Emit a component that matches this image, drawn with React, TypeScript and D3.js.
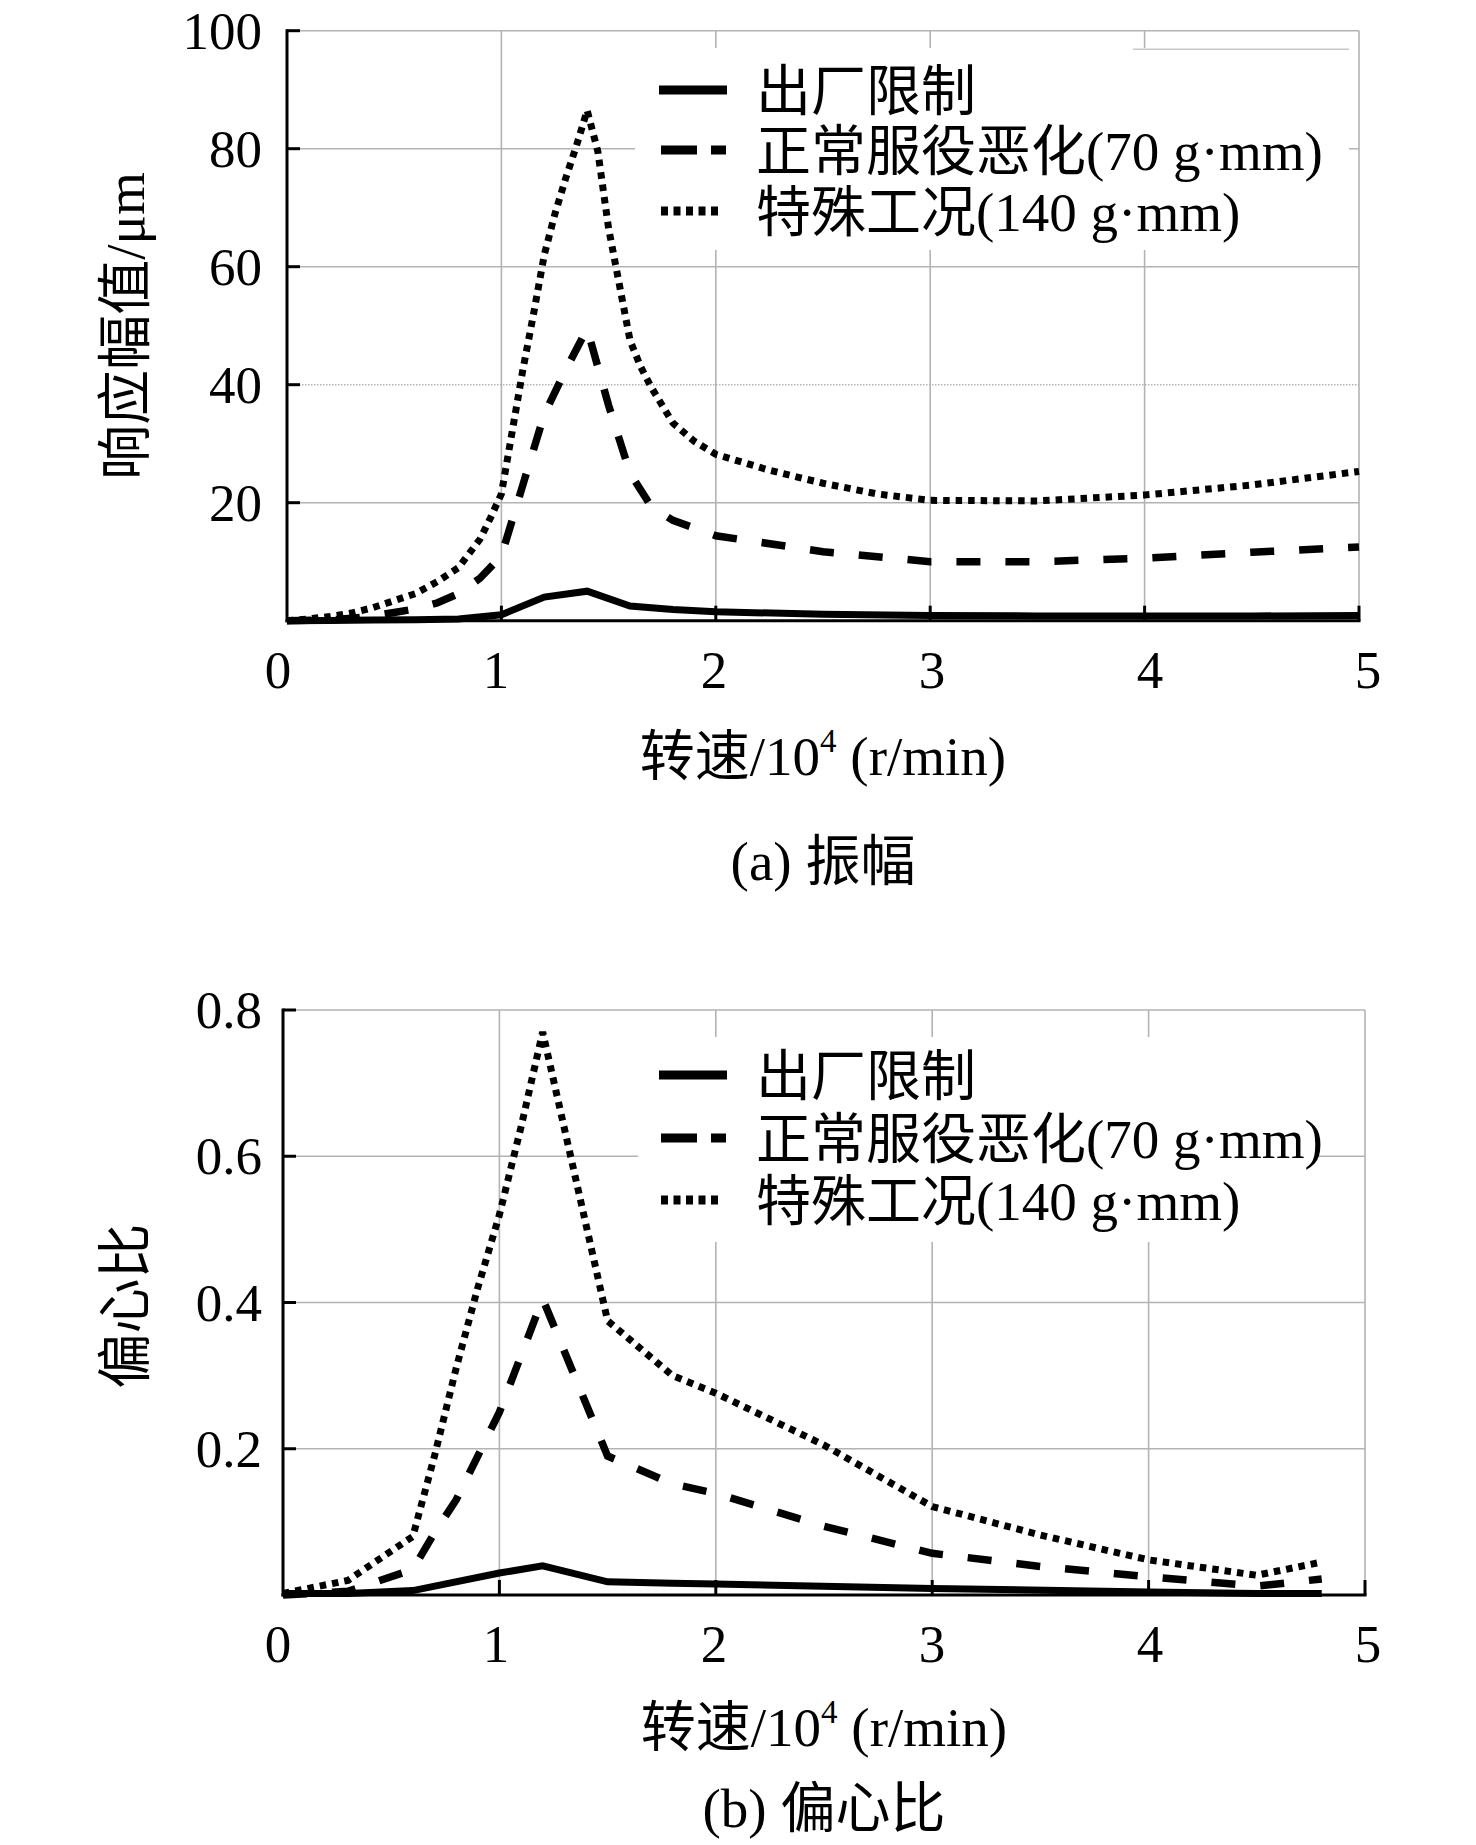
import React from 'react';
import * as d3 from 'd3';

const W = 1476;
const H = 1845;
const FONT = "'Liberation Serif', 'Times New Roman', 'Noto Sans CJK SC', serif";

// ---------- shared ----------
const X_TICKS = [0, 1, 2, 3, 4, 5];
const LEGEND_LABELS = ['出厂限制', '正常服役恶化(70 g·mm)', '特殊工况(140 g·mm)'];

// ---------- (a) amplitude, μm ----------
const A_Y_TICKS = [20, 40, 60, 80, 100];
const A_SPEED_LIMIT = [0, 0.2, 0.4, 0.6, 0.8, 1.0, 1.2, 1.4, 1.6, 1.8, 2.0, 2.5, 3.0, 3.5, 4.0, 4.5, 5.0];
const A_AMP_LIMIT = [0, 0.05, 0.1, 0.15, 0.3, 1.0, 4.0, 5.0, 2.5, 1.9, 1.5, 1.1, 0.9, 0.8, 0.8, 0.8, 0.9];
const A_SPEED_NORMAL = [0, 0.2, 0.3, 0.4, 0.5, 0.6, 0.7, 0.8, 0.9, 1.0, 1.1, 1.2, 1.3, 1.4, 1.5, 1.6, 1.7, 1.8, 2.0, 2.5, 3.0, 3.5, 4.0, 4.5, 5.0];
const A_AMP_NORMAL = [0, 0.1, 0.4, 0.8, 1.4, 2.0, 3.0, 4.6, 7.2, 11, 23, 35, 42.5, 49.5, 36.5, 25, 19.3, 17, 14.4, 11.7, 10, 10, 10.6, 11.6, 12.5];
const A_SPEED_SPECIAL = [0, 0.1, 0.2, 0.3, 0.4, 0.5, 0.6, 0.7, 0.8, 0.9, 0.95, 1.0, 1.05, 1.1, 1.15, 1.2, 1.25, 1.3, 1.35, 1.4, 1.45, 1.5, 1.55, 1.6, 1.65, 1.7, 1.8, 1.9, 2.0, 2.25, 2.5, 2.75, 3.0, 3.5, 4.0, 4.5, 5.0];
const A_AMP_SPECIAL = [0, 0.3, 0.7, 1.3, 2.2, 3.4, 4.6, 6.6, 9.0, 13.8, 17.5, 21.5, 32, 42.5, 52, 62, 69, 75, 80.5, 86.5, 79.5, 66.5, 57, 47.5, 43, 39.5, 33.5, 30.4, 28.2, 25.5, 23.3, 21.5, 20.4, 20.3, 21.3, 23, 25.3];

// ---------- (b) eccentricity ratio ----------
const B_Y_TICKS = [0.2, 0.4, 0.6, 0.8];
const B_SPEED_LIMIT = [0, 0.3, 0.6, 1.0, 1.2, 1.5, 1.8, 2.0, 3.0, 4.0, 4.5, 4.8];
const B_ECC_LIMIT = [0.002, 0.002, 0.006, 0.03, 0.04, 0.018, 0.016, 0.015, 0.009, 0.004, 0.002, 0.002];
const B_SPEED_NORMAL = [0, 0.3, 0.6, 0.7, 0.8, 0.9, 1.0, 1.2, 1.5, 1.8, 2.0, 2.5, 3.0, 3.5, 4.0, 4.5, 4.8];
const B_ECC_NORMAL = [0, 0.005, 0.035, 0.085, 0.13, 0.19, 0.25, 0.405, 0.19, 0.152, 0.139, 0.094, 0.057, 0.039, 0.025, 0.012, 0.022];
const B_SPEED_SPECIAL = [0, 0.3, 0.6, 0.7, 0.8, 0.9, 1.0, 1.1, 1.2, 1.5, 1.8, 2.0, 2.5, 3.0, 3.5, 4.0, 4.5, 4.8];
const B_ECC_SPECIAL = [0.002, 0.02, 0.08, 0.19, 0.31, 0.42, 0.52, 0.64, 0.77, 0.375, 0.30, 0.276, 0.205, 0.121, 0.082, 0.048, 0.027, 0.045];

type Series = { xs: number[]; ys: number[] };
type LineStyle = { width: number; dash?: string };

const DATA_STYLES: LineStyle[] = [
  { width: 7 },
  { width: 7.5, dash: '24 25' },
  { width: 7, dash: '6.5 6' },
];
const LEGEND_STYLES: { width: number; dash?: string; x0: number; x1: number }[] = [
  { width: 9, x0: 659, x1: 727 },
  { width: 9, dash: '36 14', x0: 661, x1: 726 },
  { width: 9, dash: '7 5.5', x0: 661, x1: 718 },
];

interface PanelProps {
  xPx: [number, number];
  yPx: [number, number];
  yMax: number;
  yTicks: number[];
  fmt: (v: number) => string;
  series: Series[];
  box: { x: number; y: number; w: number; h: number };
  rows: number[];
  yTitle: string;
  yTitleY: number;
  xTitleY: number;
  caption: string;
  captionY: number;
  dottedGrid?: number;
  remnant?: { x0: number; x1: number; y: number };
}

function Panel(p: PanelProps) {
  const x = d3.scaleLinear().domain([0, 5]).range(p.xPx);
  // tick labels in the original sit on a slightly wider spacing than the gridlines
  const xLab = d3.scaleLinear().domain([0, 5]).range([278, 1368]);
  const y = d3.scaleLinear().domain([0, p.yMax]).range(p.yPx);
  const line = d3
    .line<[number, number]>()
    .x((d) => x(d[0]))
    .y((d) => y(d[1]));
  const left = p.xPx[0];
  const right = p.xPx[1];
  const bottom = p.yPx[0];
  const top = p.yPx[1];
  const cx = (left + right) / 2;
  const grid = '#b3b3b3';
  return (
    <g>
      {/* gridlines */}
      {p.yTicks.map((t) => (
        <line
          key={'gy' + t}
          x1={left}
          x2={right}
          y1={y(t)}
          y2={y(t)}
          stroke={grid}
          strokeWidth={1.6}
          strokeDasharray={p.dottedGrid === t ? '1.5 1.5' : undefined}
        />
      ))}
      {X_TICKS.filter((t) => t > 0).map((t) => (
        <line key={'gx' + t} x1={x(t)} x2={x(t)} y1={bottom} y2={top} stroke={grid} strokeWidth={1.6} />
      ))}
      {/* legend background */}
      <rect x={p.box.x} y={p.box.y} width={p.box.w} height={p.box.h} fill="#fff" />
      {p.remnant && (
        <line x1={p.remnant.x0} x2={p.remnant.x1} y1={p.remnant.y} y2={p.remnant.y} stroke="#c8c8c8" strokeWidth={1.5} />
      )}
      {/* data */}
      {p.series.map((s, i) => (
        <path
          key={'s' + i}
          d={line(s.xs.map((v, j) => [v, s.ys[j]] as [number, number])) || ''}
          fill="none"
          stroke="#000"
          strokeWidth={DATA_STYLES[i].width}
          strokeDasharray={DATA_STYLES[i].dash}
        />
      ))}
      {/* axes */}
      <line x1={left} x2={left} y1={top - 1.5} y2={bottom + 1.5} stroke="#000" strokeWidth={3} />
      <line x1={left - 1.5} x2={right + 1.5} y1={bottom} y2={bottom} stroke="#000" strokeWidth={3} />
      {p.yTicks.map((t) => (
        <line key={'ty' + t} x1={left} x2={left + 13} y1={y(t)} y2={y(t)} stroke="#000" strokeWidth={3} />
      ))}
      {X_TICKS.filter((t) => t > 0).map((t) => (
        <line key={'tx' + t} x1={x(t)} x2={x(t)} y1={bottom} y2={bottom - 15} stroke="#000" strokeWidth={3} />
      ))}
      {/* tick labels */}
      {p.yTicks.map((t) => (
        <text key={'ly' + t} x={262} y={y(t)} dy="0.34em" textAnchor="end" fontSize={53} fontFamily={FONT}>
          {p.fmt(t)}
        </text>
      ))}
      {X_TICKS.map((t) => (
        <text key={'lx' + t} x={xLab(t)} y={bottom + 67} textAnchor="middle" fontSize={53} fontFamily={FONT}>
          {String(t)}
        </text>
      ))}
      {/* titles */}
      <text
        transform={`translate(124,${p.yTitleY}) rotate(-90)`}
        dy="0.36em"
        textAnchor="middle"
        fontSize={55}
        fontFamily={FONT}
      >
        {p.yTitle}
      </text>
      <text x={cx} y={p.xTitleY} textAnchor="middle" fontSize={55} fontFamily={FONT}>
        转速/10
        <tspan fontSize={33} dy={-23}>
          4
        </tspan>
        <tspan dy={23}> (r/min)</tspan>
      </text>
      <text x={cx} y={p.captionY} textAnchor="middle" fontSize={55} fontFamily={FONT}>
        {p.caption}
      </text>
      {/* legend */}
      {LEGEND_LABELS.map((lab, i) => (
        <g key={'lg' + i}>
          <line
            x1={LEGEND_STYLES[i].x0}
            x2={LEGEND_STYLES[i].x1}
            y1={p.rows[i]}
            y2={p.rows[i]}
            stroke="#000"
            strokeWidth={LEGEND_STYLES[i].width}
            strokeDasharray={LEGEND_STYLES[i].dash}
          />
          <text x={756} y={p.rows[i]} dy="0.36em" fontSize={55} fontFamily={FONT}>
            {lab}
          </text>
        </g>
      ))}
    </g>
  );
}

export default function App() {
  const seriesA: Series[] = [
    { xs: A_SPEED_LIMIT, ys: A_AMP_LIMIT },
    { xs: A_SPEED_NORMAL, ys: A_AMP_NORMAL },
    { xs: A_SPEED_SPECIAL, ys: A_AMP_SPECIAL },
  ];
  const seriesB: Series[] = [
    { xs: B_SPEED_LIMIT, ys: B_ECC_LIMIT },
    { xs: B_SPEED_NORMAL, ys: B_ECC_NORMAL },
    { xs: B_SPEED_SPECIAL, ys: B_ECC_SPECIAL },
  ];
  return (
    <svg
      width={W}
      height={H}
      viewBox={`0 0 ${W} ${H}`}
      style={{ position: 'absolute', left: 0, top: 0, background: '#fff' }}
    >
      <rect x={0} y={0} width={W} height={H} fill="#fff" />
      <Panel
        xPx={[287, 1359]}
        yPx={[620.7, 30.7]}
        yMax={100}
        yTicks={A_Y_TICKS}
        fmt={(v) => String(v)}
        series={seriesA}
        box={{ x: 635, y: 48, w: 714, h: 202 }}
        rows={[90, 150, 211]}
        yTitle="响应幅值/μm"
        yTitleY={326}
        xTitleY={775}
        caption="(a) 振幅"
        captionY={880}
        dottedGrid={40}
        remnant={{ x0: 1133, x1: 1349, y: 49.3 }}
      />
      <Panel
        xPx={[283, 1365]}
        yPx={[1595, 1010]}
        yMax={0.8}
        yTicks={B_Y_TICKS}
        fmt={(v) => v.toFixed(1)}
        series={seriesB}
        box={{ x: 638, y: 1037, w: 679, h: 205 }}
        rows={[1075, 1138, 1200]}
        yTitle="偏心比"
        yTitleY={1306}
        xTitleY={1746}
        caption="(b) 偏心比"
        captionY={1827}
      />
    </svg>
  );
}
